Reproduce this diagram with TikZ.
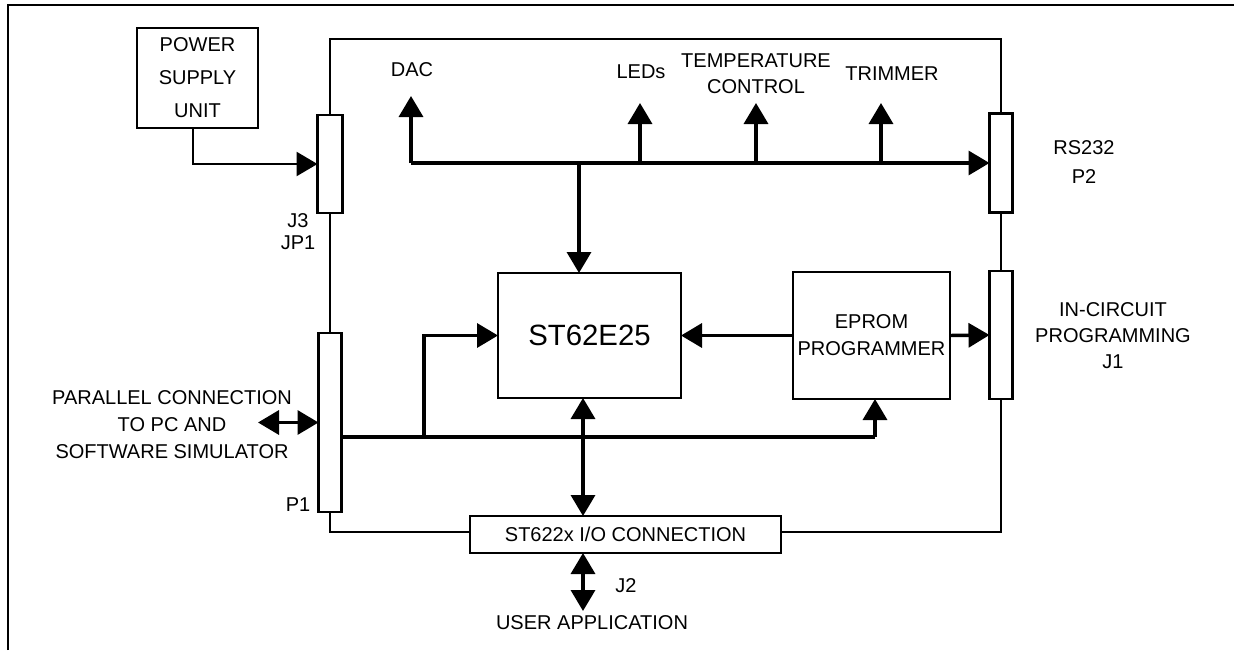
\documentclass[tikz,border=0pt]{standalone}
\usepackage{fontspec}
\setmainfont{Liberation Sans}
\usetikzlibrary{arrows.meta}
\begin{document}
\begin{tikzpicture}[x=0.75pt,y=-0.75pt,
  frame/.style={line width=2.2pt},
  board/.style={line width=1.8pt},
  bus/.style={line width=2.6pt},
  thinbus/.style={line width=1.9pt},
  box/.style={draw, line width=1.9pt, inner sep=0pt, outer sep=0pt, align=center, font=\fontsize{15}{20.25}\selectfont},
  conn/.style={draw, fill=white, line width=1.8pt, inner sep=0pt, outer sep=0pt, minimum width=17.25pt},
  lbl/.style={font=\fontsize{15}{19.5}\selectfont, align=center, inner sep=0pt},
  >={Triangle[length=15.75pt,width=18pt]}
]
\useasboundingbox (0,0) rectangle (1234,650);

% outer frame
\coordinate (f0) at (8,650);
\coordinate (f1) at (8,5);
\coordinate (f2) at (1234,5);
\draw[frame] (f0) -- (f1) -- (f2);

% boxes
\node[box, minimum width=90.75pt, minimum height=75pt, font=\fontsize{15}{24.75}\selectfont] (psu) at (197.5,78) {POWER\\SUPPLY\\UNIT};
\node[box, minimum width=137.25pt, minimum height=93.75pt, font=\fontsize{22}{26}\selectfont] (st) at (589.5,335.5) {ST62E25};
\node[box, minimum width=117.75pt, minimum height=95.25pt] (ep) at (871.5,335.5) {EPROM\\PROGRAMMER};
\node[box, minimum width=233.25pt, minimum height=27.75pt] (io) at (625.5,534.5) {ST622x I/O CONNECTION};

% connectors
\node[conn, minimum width=18.75pt, minimum height=73.5pt] (j3) at (330,164) {};
\node[conn, minimum height=134.25pt] (p1) at (330,422.5) {};
\node[conn, minimum height=74.25pt] (rs) at (1001,163) {};
\node[conn, minimum height=96pt] (j1) at (1001,335) {};

% board outline
\coordinate (tl) at (330,39);
\coordinate (tr) at (1001,39);
\coordinate (bl) at (330,532);
\coordinate (br) at (1001,532);
\draw[board] (j3.north) -- (tl) -- (tr) -- (rs.north);
\draw[board] (j3.south) -- (p1.north);
\draw[board] (p1.south) -- (bl) -- (io.west |- bl);
\draw[board] (rs.south) -- (j1.north);
\draw[board] (j1.south) -- (br) -- (io.east |- br);

% top bus
\coordinate (dacb) at (411,163);
\coordinate (dact) at (411,96);
\coordinate (ledb) at (640,163);
\coordinate (ledt) at (640,103);
\coordinate (tmpb) at (756,163);
\coordinate (tmpt) at (756,103);
\coordinate (trmb) at (881,163);
\coordinate (trmt) at (881,103);
\coordinate (stb) at (579,163);
\draw[bus,->] (dacb) -- (rs.west);
\draw[bus,->] (dacb) -- (dact);
\draw[bus,->] (ledb) -- (ledt);
\draw[bus,->] (tmpb) -- (tmpt);
\draw[bus,->] (trmb) -- (trmt);
\draw[bus,->] (stb) -- (stb |- st.north);

% bottom bus
\coordinate (busy) at (0,437);
\coordinate (lb) at (424,437);
\coordinate (eb) at (875,437);
\draw[bus] (p1.east |- busy) -- (eb);
\draw[bus,->] (eb) -- (eb |- ep.south);
\draw[bus,->] (lb) |- (st.west);
\draw[bus,->] (ep.west) -- (st.east);
\draw[bus,->] (ep.east) -- (j1.west);
\coordinate (sx) at (583,0);
\draw[bus,<->] (sx |- st.south) -- (sx |- io.north);
\coordinate (ut) at (583,611);
\draw[bus,<->] (sx |- io.south) -- (ut);
\coordinate (pl) at (258,422.5);
\draw[bus,<->] (pl) -- (p1.west);

% power supply line
\coordinate (pc) at (193,0);
\draw[thinbus,->] (pc |- psu.south) |- (j3.west);

% labels
\node[lbl] (dacl) at (412,70) {DAC};
\node[lbl] (ledl) at (641,72) {LEDs};
\node[lbl] (tmpl) at (756,74) {TEMPERATURE\\CONTROL};
\node[lbl] (trml) at (892,74) {TRIMMER};
\node[lbl, font=\fontsize{15}{21.75}\selectfont] (rsl) at (1084,162) {RS232\\P2};
\node[lbl, font=\fontsize{15}{16.5}\selectfont] (j3l) at (298,232) {J3\\JP1};
\node[lbl] (j1l) at (1113,336) {IN-CIRCUIT\\PROGRAMMING\\J1};
\node[lbl, font=\fontsize{15}{20.25}\selectfont] (parl) at (172,425) {PARALLEL CONNECTION\\TO PC AND\\SOFTWARE SIMULATOR};
\node[lbl] (p1l) at (298,505) {P1};
\node[lbl] (j2l) at (626,586) {J2};
\node[lbl] (usl) at (592,623) {USER APPLICATION};
\end{tikzpicture}
\end{document}
